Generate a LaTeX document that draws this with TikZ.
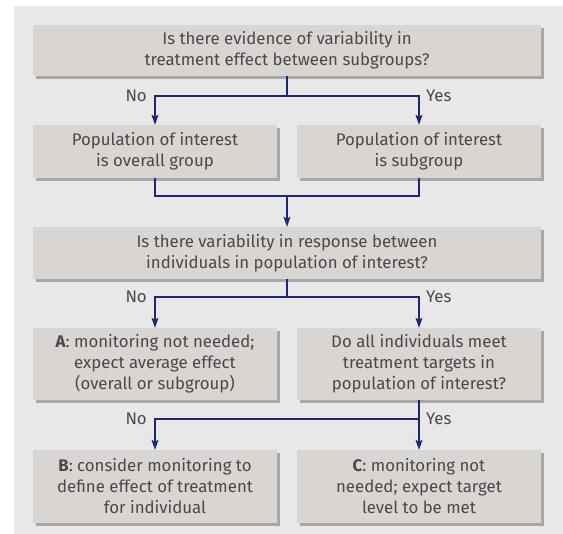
\documentclass[tikz,border=0pt]{standalone}
\usepackage{fontspec}
\setmainfont{Fira Sans}
\usepackage{tikz}
\usetikzlibrary{arrows.meta,calc,shadows}

\definecolor{bggray}{HTML}{E8E8E8}
\definecolor{boxgray}{HTML}{D9D5D2}
\definecolor{shadowgray}{HTML}{A9A6A4}
\definecolor{linkblue}{HTML}{1E2678}
\definecolor{txtgray}{HTML}{4A4848}

\tikzset{
  qbox/.style={fill=boxgray, text=txtgray, align=center, inner sep=0pt,
    minimum height=52pt, font=\fontsize{16.8}{21}\selectfont,
    drop shadow={shadow xshift=3pt, shadow yshift=-3pt, fill=shadowgray, opacity=1}},
  wide/.style={qbox, minimum width=508pt},
  half/.style={qbox, minimum width=244pt},
  lbl/.style={text=txtgray, inner sep=0pt, font=\fontsize{16.8}{20}\selectfont},
  link/.style={draw=linkblue, line width=1.5pt},
}

\begin{document}
\begin{tikzpicture}[x=1pt, y=-1pt, >={Stealth[length=10pt,width=7pt,inset=2pt]}]
  \useasboundingbox (0,0) rectangle (563,534);
  \fill[bggray] (14,6) rectangle (563,534);
  %boxes
  \node[wide, minimum height=51pt](Q1) at (287,50.5) {Is there evidence of variability in\\treatment effect between subgroups?};
  \node[half, minimum height=53pt](P1) at (155,151.5) {Population of interest\\is overall group};
  \node[half, minimum height=53pt](P2) at (419,151.5) {Population of interest\\is subgroup};
  \node[wide](Q2) at (287,253) {Is there variability in response between\\individuals in population of interest?};
  \node[half, minimum height=72pt](A) at (155,364) {\textbf{A}: monitoring not needed;\\expect average effect\\(overall or subgroup)};
  \node[half, minimum height=72pt](Q3) at (419,364) {Do all individuals meet\\treatment targets in\\population of interest?};
  \node[half, minimum height=73pt](B) at (155,486.5) {\textbf{B}: consider monitoring to\\define effect of treatment\\for individual};
  \node[half, minimum height=73pt](C) at (419,486.5) {\textbf{C}: monitoring not\\needed; expect target\\level to be met};
  % split and merge points
  \coordinate (s1) at (287,96);
  \coordinate (m1) at (287,196);
  \coordinate (s2) at (287,297);
  \coordinate (s3) at (419,419);
  % Edges
  \draw[link] (Q1.south) -- (s1);
  \draw[link,->] (s1) -| (P1.north);
  \draw[link,->] (s1) -| (P2.north);
  \node[lbl, left] at ($(P1.north |- s1)-(8,0)$) {No};
  \node[lbl, right] at ($(P2.north |- s1)+(7,0)$) {Yes};
  \draw[link] (P1.south) |- (m1) -| (P2.south);
  \draw[link,->] (m1) -- (Q2.north);
  \draw[link] (Q2.south) -- (s2);
  \draw[link,->] (s2) -| (A.north);
  \draw[link,->] (s2) -| (Q3.north);
  \node[lbl, left] at ($(A.north |- s2)-(8,0)$) {No};
  \node[lbl, right] at ($(Q3.north |- s2)+(7,0)$) {Yes};
  \draw[link,->] (Q3.south) -- (C.north);
  \draw[link,->] (s3) -| (B.north);
  \node[lbl, left] at ($(B.north |- s3)-(8,0)$) {No};
  \node[lbl, right] at ($(s3)+(7,0)$) {Yes};
\end{tikzpicture}
\end{document}
